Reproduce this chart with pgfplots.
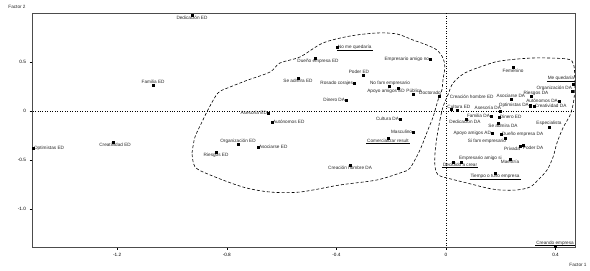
\documentclass[border=0pt]{standalone}
\usepackage{fontspec}
\setmainfont{Liberation Sans}
\usepackage{pgfplots}
\pgfplotsset{compat=1.18}
\begin{document}
\begin{tikzpicture}[x=1bp,y=1bp,
  lab/.style={font=\fontsize{4.7}{5}\selectfont, inner sep=0.8bp, text=black!85},
  ul/.style={append after command={([yshift=0.5bp]\tikzlastnode.south west) edge[line width=0.3pt, black] ([yshift=0.5bp]\tikzlastnode.south east)}}]
\useasboundingbox (0,0) rectangle (590,270);
\begin{axis}[at={(32bp,23bp)}, anchor=south west, scale only axis,
  width=543bp, height=234bp,
  xmin=-1.511, xmax=0.471, ymin=-1.388, ymax=1.0,
  xtick={-1.2,-0.8,-0.4,0,0.4}, xticklabels={-1.2,-0.8,-0.4,0,0.4},
  ytick={-1,-0.5,0,0.5}, yticklabels={-1.0,-0.5,0,0.5},
  xtick pos=bottom, ytick pos=left,
  tick align=outside, major tick length=2.5bp,
  tick style={black, line width=0.4pt},
  axis line style={line width=0.6pt, black!70},
  ticklabel style={font=\fontsize{4.7}{5}\selectfont},
  clip=true]
% zero lines
\addplot[black, line width=0.5pt, dotted] coordinates {(-1.6,0) (0.6,0)};
\addplot[black, line width=0.5pt, dotted] coordinates {(0,-1.5) (0,1.1)};
% left cluster
\addplot[black, line width=0.6pt, densely dashed, smooth, tension=0.5] coordinates {
(-0.927,-0.429) (-0.916,-0.265) (-0.887,-0.092) (-0.869,0.010) (-0.832,0.184)
(-0.788,0.245) (-0.723,0.316) (-0.642,0.398) (-0.606,0.490) (-0.533,0.551)
(-0.449,0.694) (-0.350,0.765) (-0.252,0.796) (-0.179,0.786) (-0.120,0.724)
(-0.069,0.673) (-0.033,0.622) (-0.011,0.541) (-0.004,0.449) (-0.011,0.316)
(-0.015,0.214) (-0.029,0.112) (-0.047,-0.061) (-0.066,-0.194) (-0.095,-0.398)
(-0.131,-0.582) (-0.157,-0.622) (-0.252,-0.704) (-0.387,-0.755) (-0.533,-0.827)
(-0.642,-0.827) (-0.741,-0.776) (-0.861,-0.653) (-0.916,-0.571) (-0.927,-0.429)};
% right cluster
\addplot[black, line width=0.6pt, densely dashed, smooth, tension=0.5] coordinates {
(-0.022,-0.092) (-0.011,0.041) (0.007,0.163) (0.026,0.286) (0.069,0.388)
(0.135,0.459) (0.197,0.510) (0.318,0.541) (0.442,0.531) (0.465,0.480)
(0.470,0.367) (0.470,0.214) (0.465,0.082) (0.453,-0.041) (0.427,-0.173)
(0.405,-0.327) (0.391,-0.469) (0.369,-0.602) (0.336,-0.704) (0.307,-0.776)
(0.259,-0.806) (0.197,-0.806) (0.150,-0.786) (0.077,-0.735) (0.004,-0.684)
(-0.029,-0.653) (-0.040,-0.571) (-0.040,-0.429) (-0.033,-0.265) (-0.022,-0.092)};
% points
\addplot[only marks, mark=square*, mark size=1.1bp, black] table {
x y
-0.927 0.980
-1.069 0.265
-1.507 -0.378
-1.215 -0.316
-0.398 0.653
-0.478 0.541
-0.303 0.367
-0.540 0.337
-0.336 0.286
-0.058 0.531
-0.208 0.255
-0.175 0.235
-0.120 0.173
-0.026 0.153
-0.365 0.112
-0.650 -0.020
-0.635 -0.112
-0.168 -0.082
-0.120 -0.214
-0.212 -0.276
-0.759 -0.337
-0.686 -0.367
-0.839 -0.418
-0.350 -0.551
0.245 0.449
0.464 0.276
0.460 0.204
0.310 0.153
0.237 0.122
0.412 0.102
0.018 0.020
0.040 0.010
0.197 0.000
0.306 0.055
0.321 0.051
0.164 -0.051
0.193 -0.061
0.073 -0.082
0.190 -0.122
0.168 -0.224
0.201 -0.235
0.215 -0.276
0.376 -0.163
0.270 -0.357
0.281 -0.347
0.234 -0.490
0.055 -0.520
0.026 -0.520
0.179 -0.633
0.398 -1.378
};
% labels left cluster
\node[lab, below] at (axis cs:-0.927,0.980) {Dedicación ED};
\node[lab, above] at (axis cs:-1.069,0.265) {Familia ED};
\node[lab, right] at (axis cs:-1.507,-0.378) {Optimistas ED};
\node[lab, below, xshift=2bp] at (axis cs:-1.215,-0.316) {Creatividad ED};
\node[lab, right, ul] at (axis cs:-0.398,0.653) {No me quedaría};
\node[lab, below, xshift=3bp] at (axis cs:-0.478,0.541) {Dueño empresa ED};
\node[lab, above, xshift=-4bp] at (axis cs:-0.303,0.367) {Poder ED};
\node[lab, below] at (axis cs:-0.540,0.337) {Se admira ED};
\node[lab, left] at (axis cs:-0.336,0.286) {Rosado corajes};
\node[lab, left] at (axis cs:-0.058,0.531) {Empresario amigo no};
\node[lab, above, xshift=1bp] at (axis cs:-0.208,0.255) {No fam empresario};
\node[lab, below, xshift=-12bp] at (axis cs:-0.175,0.235) {Apoyo amigos ED};
\node[lab, above, xshift=1bp] at (axis cs:-0.120,0.173) {Pública};
\node[lab, above left, xshift=3bp] at (axis cs:-0.026,0.153) {Doctorado};
\node[lab, left] at (axis cs:-0.365,0.112) {Dinero DA};
\node[lab, left] at (axis cs:-0.650,-0.020) {Asesoría ED};
\node[lab, right] at (axis cs:-0.635,-0.112) {Autónomos ED};
\node[lab, left] at (axis cs:-0.168,-0.082) {Cultura DA};
\node[lab, left] at (axis cs:-0.120,-0.214) {Masculino};
\node[lab, below, ul] at (axis cs:-0.212,-0.276) {Comercializar result};
\node[lab, above] at (axis cs:-0.759,-0.337) {Organización ED};
\node[lab, right] at (axis cs:-0.686,-0.367) {Asociarse ED};
\node[lab, below] at (axis cs:-0.839,-0.418) {Riesgos ED};
\node[lab, below] at (axis cs:-0.350,-0.551) {Creación hombre DA};
% labels right cluster
\node[lab, below, yshift=-1bp] at (axis cs:0.245,0.449) {Femenino};
\node[lab, above left, xshift=2bp, yshift=2bp, ul] at (axis cs:0.464,0.276) {Me quedaría};
\node[lab, above left, xshift=1bp] at (axis cs:0.460,0.204) {Organización DA};
\node[lab, above, xshift=5bp] at (axis cs:0.310,0.153) {Riesgos DA};
\node[lab, above] at (axis cs:0.237,0.122) {Asociarse DA};
\node[lab, left] at (axis cs:0.412,0.102) {Autónomos DA};
\node[lab, above right, yshift=9bp, xshift=-2bp] at (axis cs:0.018,0.020) {Creación hombre ED};
\node[lab, above, xshift=2bp] at (axis cs:0.040,0.010) {Cultura ED};
\node[lab, above left, xshift=2bp] at (axis cs:0.197,0.000) {Asesoría DA};
\node[lab, left] at (axis cs:0.306,0.055) {Optimistas DA};
\node[lab, right] at (axis cs:0.321,0.051) {Creatividad DA};
\node[lab, left] at (axis cs:0.164,-0.051) {Familia DA};
\node[lab, right] at (axis cs:0.193,-0.061) {Dinero ED};
\node[lab, below, xshift=-1bp] at (axis cs:0.073,-0.082) {Dedicación DA};
\node[lab, below, xshift=5bp] at (axis cs:0.190,-0.122) {Se admira DA};
\node[lab, left] at (axis cs:0.168,-0.224) {Apoyo amigos AD};
\node[lab, right] at (axis cs:0.201,-0.235) {Dueño empresa DA};
\node[lab, below left, xshift=2bp] at (axis cs:0.215,-0.276) {Si fam empresario};
\node[lab, above] at (axis cs:0.376,-0.163) {Especialista};
\node[lab, below left, xshift=1bp] at (axis cs:0.270,-0.357) {Privada};
\node[lab, below right, xshift=-1bp] at (axis cs:0.281,-0.347) {Poder DA};
\node[lab, below] at (axis cs:0.234,-0.490) {Maestría};
\node[lab, above right, xshift=-3bp] at (axis cs:0.055,-0.520) {Empresario amigo si};
\node[lab, below, xshift=7bp, ul] at (axis cs:0.026,-0.520) {Decidido a crear};
\node[lab, below, ul] at (axis cs:0.179,-0.633) {Tiempo o tuvo empresa};
\node[lab, above, ul] at (axis cs:0.398,-1.378) {Creando empresa};
\end{axis}
\node[lab] at (17,263) {Factor 2};
\node[lab] at (578,5) {Factor 1};
\end{tikzpicture}
\end{document}
